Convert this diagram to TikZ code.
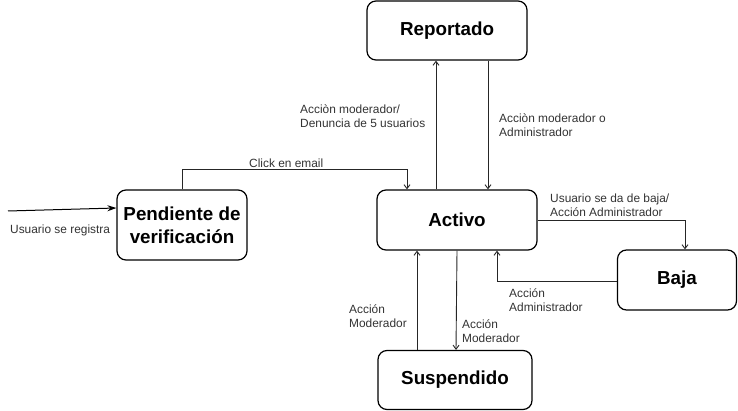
\documentclass[tikz,border=0pt]{standalone}
\usepackage{fontspec}
\setmainfont{Liberation Sans}
\usetikzlibrary{arrows.meta}
\definecolor{labelgray}{HTML}{333333}
\tikzset{
  estado/.style={shape=rectangle, rounded corners=9pt, draw=black, line width=1.2pt,
    inner sep=0pt, align=center, font=\fontsize{18.8}{23}\selectfont\bfseries},
  conn/.style={draw=black!85, line width=0.9pt, -{Straight Barb[length=4pt,width=6pt]}},
  entrada/.style={draw=black, line width=1pt, -{Stealth[length=9pt,width=6pt]}},
  etiqueta/.style={anchor=base west, inner sep=0pt, align=left, text=labelgray,
    font=\fontsize{11.9}{14}\selectfont}
}
\begin{document}
\begin{tikzpicture}[x=1pt, y=-1pt]
\useasboundingbox (0,0) rectangle (738,411);
\node[estado, minimum width=160pt, minimum height=59pt] (reportado) at (447,30.5) {Reportado};
\node[estado, minimum width=130pt, minimum height=70pt] (pendiente) at (182,225) {Pendiente de\\verificación};
\node[estado, minimum width=160pt, minimum height=60pt] (activo) at (457,220) {Activo};
\node[estado, minimum width=119pt, minimum height=60pt] (baja) at (677,280) {Baja};
\node[estado, minimum width=154pt, minimum height=59pt] (suspendido) at (455,380) {Suspendido};
\coordinate (inicio) at (8,211);
\draw[entrada] (inicio) -- ([yshift=17pt]pendiente.west);
\draw[conn] (pendiente.north) -- ++(0,-20) -| ([xshift=-50pt]activo.north);
\draw[conn] ([xshift=-21pt]activo.north) -- ([xshift=-11pt]reportado.south);
\draw[conn] ([xshift=41pt]reportado.south) -- ([xshift=31pt]activo.north);
\draw[conn] (activo.east) -| ([xshift=8pt]baja.north);
\draw[conn] ([yshift=-1pt]baja.west) -| ([xshift=40pt]activo.south);
\draw[conn] ([xshift=-38pt]suspendido.north) -- ([xshift=-40pt]activo.south);
\draw[conn] (activo.south) -- ([xshift=1pt]suspendido.north);
\node[etiqueta] (lregistra) at (10,234) {Usuario se registra};
\node[etiqueta] (lclick) at (249,168) {Click en email};
\node[etiqueta] (lreporta) at (300,128) {Acciòn moderador/\\Denuncia de 5 usuarios};
\node[etiqueta] (lreactiva) at (499,137) {Acciòn moderador o\\Administrador};
\node[etiqueta] (lbaja) at (550,217) {Usuario se da de baja/\\Acción Administrador};
\node[etiqueta] (lalta) at (509,312) {Acción\\Administrador};
\node[etiqueta] (lsusp) at (349,327) {Acción\\Moderador};
\node[etiqueta] (lsuspa) at (462,342) {Acción\\Moderador};
\end{tikzpicture}
\end{document}
